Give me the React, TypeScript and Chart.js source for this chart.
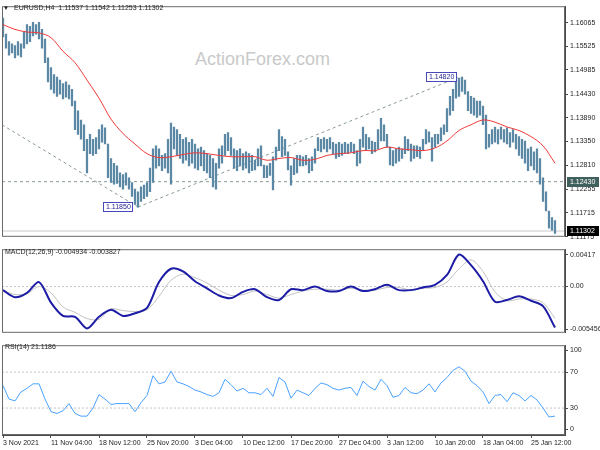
import React, { useEffect, useRef } from 'react';
import Chart from 'chart.js/auto';

const FONT = '"Liberation Sans", Arial, sans-serif';
const SMALL = 7;
const X_MIN = -1 / 3;
const X_MAX = 187 + 1 / 3;
const AXIS_W = 35;

// time axis: one label every 16 H4 bars
const dateLabels = ['3 Nov 2021', '11 Nov 04:00', '18 Nov 12:00', '25 Nov 20:00', '3 Dec 04:00', '10 Dec 12:00', '17 Dec 20:00', '27 Dec 04:00', '3 Jan 12:00', '10 Jan 20:00', '18 Jan 04:00', '25 Jan 12:00'];
const barsPerLabel = 16;

// EURUSD H4 bar highs / lows
const highs = [
  1.1617, 1.1580, 1.1563, 1.1558, 1.1554, 1.1563, 1.1558, 1.1585, 1.1602, 1.1598,
  1.1607, 1.1602, 1.1607, 1.1591, 1.1569, 1.1526, 1.1504, 1.1488, 1.1482, 1.1475,
  1.1467, 1.1471, 1.1464, 1.1454, 1.1427, 1.1405, 1.1384, 1.1373, 1.1340, 1.1351,
  1.1340, 1.1344, 1.1362, 1.1373, 1.1366, 1.1329, 1.1296, 1.1285, 1.1279, 1.1263,
  1.1259, 1.1263, 1.1252, 1.1241, 1.1226, 1.1220, 1.1231, 1.1235, 1.1241, 1.1274,
  1.1318, 1.1325, 1.1318, 1.1303, 1.1307, 1.1340, 1.1377, 1.1368, 1.1362, 1.1351,
  1.1340, 1.1344, 1.1333, 1.1340, 1.1329, 1.1318, 1.1322, 1.1314, 1.1307, 1.1303,
  1.1296, 1.1285, 1.1318, 1.1325, 1.1351, 1.1355, 1.1344, 1.1318, 1.1314, 1.1318,
  1.1307, 1.1311, 1.1307, 1.1303, 1.1292, 1.1318, 1.1325, 1.1281, 1.1279, 1.1285,
  1.1300, 1.1322, 1.1362, 1.1346, 1.1340, 1.1311, 1.1279, 1.1296, 1.1303, 1.1303,
  1.1300, 1.1303, 1.1296, 1.1300, 1.1318, 1.1344, 1.1340, 1.1344, 1.1340, 1.1344,
  1.1333, 1.1329, 1.1333, 1.1329, 1.1333, 1.1329, 1.1333, 1.1329, 1.1314, 1.1340,
  1.1368, 1.1351, 1.1344, 1.1336, 1.1333, 1.1362, 1.1388, 1.1373, 1.1351, 1.1322,
  1.1314, 1.1318, 1.1322, 1.1318, 1.1346, 1.1340, 1.1329, 1.1325, 1.1325, 1.1322,
  1.1340, 1.1362, 1.1357, 1.1344, 1.1351, 1.1351, 1.1366, 1.1373, 1.1410, 1.1438,
  1.1454, 1.1475, 1.1480, 1.1482, 1.1475, 1.1449, 1.1438, 1.1434, 1.1427, 1.1427,
  1.1416, 1.1395, 1.1351, 1.1362, 1.1368, 1.1362, 1.1368, 1.1362, 1.1366, 1.1355,
  1.1362, 1.1351, 1.1346, 1.1340, 1.1336, 1.1318, 1.1322, 1.1311, 1.1318, 1.1296,
  1.1252, 1.1220, 1.1176, 1.1161, 1.1154,
];
const lows = [
  1.1574, 1.1548, 1.1532, 1.1537, 1.1526, 1.1532, 1.1528, 1.1548, 1.1558, 1.1563,
  1.1576, 1.1580, 1.1569, 1.1548, 1.1515, 1.1471, 1.1454, 1.1445, 1.1438, 1.1443,
  1.1432, 1.1436, 1.1432, 1.1416, 1.1362, 1.1351, 1.1340, 1.1314, 1.1263, 1.1307,
  1.1303, 1.1307, 1.1318, 1.1333, 1.1329, 1.1252, 1.1241, 1.1237, 1.1239, 1.1231,
  1.1226, 1.1235, 1.1226, 1.1209, 1.1191, 1.1185, 1.1198, 1.1204, 1.1209, 1.1220,
  1.1241, 1.1274, 1.1279, 1.1268, 1.1274, 1.1263, 1.1237, 1.1318, 1.1303, 1.1296,
  1.1285, 1.1292, 1.1279, 1.1285, 1.1274, 1.1270, 1.1279, 1.1268, 1.1263, 1.1252,
  1.1231, 1.1226, 1.1274, 1.1285, 1.1303, 1.1314, 1.1303, 1.1274, 1.1268, 1.1279,
  1.1270, 1.1274, 1.1263, 1.1268, 1.1270, 1.1279, 1.1279, 1.1252, 1.1252, 1.1257,
  1.1224, 1.1292, 1.1314, 1.1300, 1.1303, 1.1270, 1.1235, 1.1259, 1.1263, 1.1279,
  1.1279, 1.1281, 1.1263, 1.1268, 1.1285, 1.1314, 1.1311, 1.1318, 1.1311, 1.1318,
  1.1307, 1.1296, 1.1300, 1.1303, 1.1307, 1.1307, 1.1311, 1.1307, 1.1279, 1.1285,
  1.1322, 1.1314, 1.1318, 1.1307, 1.1311, 1.1318, 1.1336, 1.1336, 1.1322, 1.1281,
  1.1279, 1.1285, 1.1290, 1.1296, 1.1307, 1.1314, 1.1290, 1.1296, 1.1300, 1.1296,
  1.1314, 1.1329, 1.1333, 1.1290, 1.1322, 1.1329, 1.1336, 1.1351, 1.1357, 1.1395,
  1.1405, 1.1434, 1.1438, 1.1449, 1.1443, 1.1405, 1.1399, 1.1395, 1.1390, 1.1395,
  1.1373, 1.1318, 1.1322, 1.1329, 1.1333, 1.1329, 1.1340, 1.1333, 1.1329, 1.1322,
  1.1333, 1.1318, 1.1303, 1.1296, 1.1285, 1.1268, 1.1279, 1.1270, 1.1263, 1.1237,
  1.1198, 1.1176, 1.1137, 1.1132, 1.1125,
];

// moving average, one value every 4 bars
const maValues = [
  1.1602, 1.1591, 1.1585, 1.1583, 1.1572, 1.1541, 1.1515, 1.1475, 1.1434, 1.1386,
  1.1353, 1.1329, 1.1307, 1.1298, 1.1300, 1.1305, 1.1309, 1.1307, 1.1303, 1.1300,
  1.1300, 1.1300, 1.1292, 1.1296, 1.1298, 1.1292, 1.1294, 1.1303, 1.1307, 1.1309,
  1.1314, 1.1314, 1.1322, 1.1318, 1.1316, 1.1314, 1.1320, 1.1336, 1.1360, 1.1373,
  1.1384, 1.1379, 1.1368, 1.1360, 1.1346, 1.1325, 1.1285,
];

// MACD(12,26,9), one value every 4 bars
const macdMain = [
  -0.00043, -0.00128, -0.00075, 0.00054, -0.00193, -0.00353, -0.00364, -0.00503, -0.00364, -0.00278,
  -0.00353, -0.00321, -0.00257, 0.00054, 0.00214, 0.00182, 0.00064, -0.00021, -0.00107, -0.00139,
  -0.00064, -0.00032, -0.00128, -0.00161, -0.00032, -0.00043, 0, -0.00054, -0.00054, 0,
  -0.00054, -0.00032, 0.00021, -0.00043, -0.00043, -0.00011, 0.00021, 0.00139, 0.00385, 0.00257,
  0.00064, -0.00182, -0.00161, -0.00118, -0.00171, -0.00235, -0.00493,
];
const macdSignal = [
  -0.00043, -0.00096, -0.00086, 0, -0.00075, -0.00246, -0.0031, -0.00385, -0.00396, -0.00268,
  -0.00289, -0.003, -0.00278, -0.00118, 0.00075, 0.0015, 0.00107, 0.00043, -0.00043, -0.00107,
  -0.00096, -0.00054, -0.00096, -0.00139, -0.00096, -0.00054, -0.00032, -0.00032, -0.00043, -0.00021,
  -0.00043, -0.00043, -0.00011, -0.00011, -0.00043, -0.00021, -0.00011, 0.00054, 0.00214, 0.00321,
  0.00182, -0.00064, -0.00171, -0.0015, -0.0015, -0.00193, -0.00383,
];

// RSI(14), one value every 2 bars
const rsiValues = [
  55, 40, 38, 48, 52, 57, 57, 40, 26, 24,
  27, 35, 24, 21, 21, 30, 45, 40, 34, 35,
  35, 35, 26, 36, 44, 66, 57, 59, 71, 59,
  57, 54, 50, 48, 45, 43, 47, 62, 56, 49,
  52, 47, 47, 45, 52, 43, 64, 59, 41, 50,
  47, 44, 52, 58, 56, 52, 50, 52, 53, 44,
  60, 54, 50, 62, 55, 42, 44, 53, 47, 46,
  50, 57, 48, 58, 64, 72, 76, 71, 60, 55,
  48, 35, 44, 45, 37, 47, 44, 38, 44, 39,
  30, 20, 21.1,
];

const priceTicks = [1.16065, 1.15525, 1.14985, 1.1443, 1.1389, 1.1335, 1.1281, 1.12255, 1.11715, 1.11175];
const lastBar = [1.11537, 1.11542, 1.11253, 1.11302];
const macdLast = [-0.004934, -0.003827];
const rsiLast = 21.1186;
const macdAxisLabels = ['-0.005456', '0.00', '0.00417'];
const rsiAxisLabels = ['0', '30', '70', '100'];
const rsiLevels = [70, 30];

// swing points joined by the trend lines
const swingBars = [45, 153];
const swingPrices = [1.1185, 1.1482];
const trendStartPrice = 1.1373;
const markedLevel = 1.1243;
const axisMarkPrices = [1.1243, 1.11302];
const axisMarkColors = ['#40605e', '#000000'];

const PRICE_MIN = 1.1117;
const PRICE_MAX = 1.1644;
const MACD_MIN = -0.00556;
const MACD_MAX = 0.00449;

const every = (values: number[], step: number) => values.map((y, k) => ({ x: k * step, y }));
const flat = (y: number) => [{ x: X_MIN, y }, { x: X_MAX, y }];

const hiddenX = { type: 'linear', min: X_MIN, max: X_MAX, display: false, offset: false };

const rightAxis = (min: number, max: number, values: number[], label: (v: any, i: number) => string) => ({
  position: 'right',
  min,
  max,
  afterBuildTicks: (scale: any) => {
    scale.ticks = values.map((value) => ({ value }));
  },
  afterFit: (scale: any) => {
    scale.width = AXIS_W;
  },
  grid: { drawOnChartArea: false, drawTicks: true, tickLength: 3, color: '#4a4a4a' },
  border: { display: true, color: '#4a4a4a' },
  ticks: { padding: 2, autoSkip: false, color: '#1e1e1e', font: { family: FONT, size: SMALL }, callback: label },
});

const framePlugin = {
  id: 'frame',
  afterDraw(chart: any) {
    const { ctx, chartArea: a } = chart;
    ctx.save();
    ctx.strokeStyle = '#6a6a6a';
    ctx.lineWidth = 1;
    ctx.strokeRect(a.left + 0.5, a.top + 0.5, a.width - 1, a.height - 1);
    ctx.restore();
  },
};

const mainMarksPlugin = {
  id: 'mainMarks',
  afterDatasetsDraw(chart: any) {
    const { ctx, chartArea, scales } = chart;
    ctx.save();
    ctx.font = `${SMALL}px ${FONT}`;
    ctx.textBaseline = 'middle';
    ctx.textAlign = 'left';
    swingBars.forEach((bar, k) => {
      const px = Math.round(scales.x.getPixelForValue(bar));
      const py = Math.round(scales.y.getPixelForValue(swingPrices[k]));
      const text = swingPrices[k].toFixed(5);
      const w = Math.ceil(ctx.measureText(text).width) + 5;
      const left = px - 5 - w;
      ctx.fillStyle = '#ffffff';
      ctx.fillRect(left, py - 5, w, 10);
      ctx.strokeStyle = '#4848b8';
      ctx.lineWidth = 1;
      ctx.strokeRect(left + 0.5, py - 4.5, w - 1, 9);
      ctx.fillStyle = '#1e1e8c';
      ctx.fillText(text, left + 3, py + 0.5);
    });
    axisMarkPrices.forEach((p, k) => {
      const py = Math.round(scales.y.getPixelForValue(p));
      ctx.fillStyle = axisMarkColors[k];
      ctx.fillRect(chartArea.right + 2, py - 5, 32, 10);
      ctx.fillStyle = '#ffffff';
      ctx.fillText(p.toFixed(5), chartArea.right + 5, py + 0.5);
    });
    ctx.restore();
  },
};

const dashed = (data: any[], color: string, dash: number[]) => ({
  type: 'line',
  data,
  borderColor: color,
  borderWidth: 1,
  borderDash: dash,
  pointRadius: 0,
});

const App: React.FC = () => {
  const mainRef = useRef<HTMLCanvasElement | null>(null);
  const macdRef = useRef<HTMLCanvasElement | null>(null);
  const rsiRef = useRef<HTMLCanvasElement | null>(null);

  useEffect(() => {
    const charts: Chart[] = [];
    const base = {
      responsive: false,
      animation: false,
      events: [],
      plugins: { legend: { display: false }, tooltip: { enabled: false } },
    };

    if (mainRef.current) {
      charts.push(
        new Chart(mainRef.current, {
          type: 'bar',
          data: {
            datasets: [
              { type: 'line', data: every(maValues, 4), borderColor: '#f03a3a', borderWidth: 1, pointRadius: 0, tension: 0.35 },
              {
                type: 'bar',
                data: highs.map((h, i) => ({ x: i, y: [lows[i], h] })),
                backgroundColor: '#5b88a4',
                barThickness: 1.6,
                grouped: false,
              },
              dashed([{ x: X_MIN, y: trendStartPrice }, { x: swingBars[0], y: swingPrices[0] }], '#8a9a9a', [3, 3]),
              dashed([{ x: swingBars[0], y: swingPrices[0] }, { x: swingBars[1] - 1, y: swingPrices[1] }], '#8a9a9a', [3, 3]),
              dashed(flat(markedLevel), '#8a9a9a', [3, 3]),
              dashed(flat(lastBar[3]), '#c8c8c8', []),
            ],
          },
          options: {
            ...base,
            layout: { padding: { top: 1, left: 2, right: 0, bottom: 1 } },
            scales: {
              x: hiddenX,
              y: rightAxis(PRICE_MIN, PRICE_MAX, priceTicks, (v) => Number(v).toFixed(5)),
            },
          },
          plugins: [framePlugin, mainMarksPlugin],
        } as any)
      );
    }

    if (macdRef.current) {
      const range = MACD_MAX - MACD_MIN;
      charts.push(
        new Chart(macdRef.current, {
          type: 'line',
          data: {
            datasets: [
              { data: every(macdMain, 4), borderColor: '#1c1ca6', borderWidth: 2, pointRadius: 0, tension: 0.3 },
              { data: every(macdSignal, 4), borderColor: '#c2c2c2', borderWidth: 1, pointRadius: 0, tension: 0.3 },
              dashed(flat(0), '#c4c4c4', [2, 2]),
            ],
          },
          options: {
            ...base,
            layout: { padding: { top: 1, left: 2, right: 0, bottom: 1 } },
            scales: {
              x: hiddenX,
              y: rightAxis(MACD_MIN, MACD_MAX, [MACD_MIN + range * 0.045, 0, MACD_MAX - range * 0.065], (_v, i) => macdAxisLabels[i]),
            },
          },
          plugins: [framePlugin],
        } as any)
      );
    }

    if (rsiRef.current) {
      charts.push(
        new Chart(rsiRef.current, {
          type: 'line',
          data: {
            datasets: [
              { data: every(rsiValues, 2), borderColor: '#4aa2ff', borderWidth: 1, pointRadius: 0, tension: 0 },
              ...rsiLevels.map((lv) => dashed(flat(lv), '#c4c4c4', [2, 2])),
            ],
          },
          options: {
            ...base,
            layout: { padding: { top: 2, left: 2, right: 0, bottom: 0 } },
            scales: {
              x: {
                type: 'linear',
                min: X_MIN,
                max: X_MAX,
                offset: false,
                afterBuildTicks: (scale: any) => {
                  scale.ticks = dateLabels.map((_, k) => ({ value: k * barsPerLabel }));
                },
                afterFit: (scale: any) => {
                  scale.height = 15;
                },
                grid: { drawOnChartArea: false, drawTicks: true, tickLength: 3, color: '#4a4a4a' },
                border: { display: true, color: '#4a4a4a' },
                ticks: {
                  align: 'start',
                  padding: 1,
                  maxRotation: 0,
                  autoSkip: false,
                  color: '#1e1e1e',
                  font: { family: FONT, size: SMALL },
                  callback: (v: any) => dateLabels[Math.round(Number(v) / barsPerLabel)],
                },
              },
              y: rightAxis(0, 100, [6.5, 30, 70, 94.5], (_v, i) => rsiAxisLabels[i]),
            },
          },
          plugins: [framePlugin],
        } as any)
      );
    }

    return () => {
      charts.forEach((c) => c.destroy());
    };
  }, []);

  const text: React.CSSProperties = {
    position: 'absolute',
    fontFamily: FONT,
    fontSize: SMALL,
    lineHeight: '10px',
    color: '#1e1e1e',
    whiteSpace: 'pre',
  };

  return (
    <div style={{ position: 'absolute', left: 0, top: 0, width: 600, height: 450, background: '#ffffff', overflow: 'hidden' }}>
      <div style={{ ...text, left: 195, top: 49, fontSize: 18, lineHeight: '20px', color: '#c9c9c9' }}>ActionForex.com</div>
      <canvas ref={mainRef} width={600} height={243} style={{ position: 'absolute', left: 0, top: 0, display: 'block' }} />
      <canvas ref={macdRef} width={600} height={96} style={{ position: 'absolute', left: 0, top: 243, display: 'block' }} />
      <canvas ref={rsiRef} width={600} height={111} style={{ position: 'absolute', left: 0, top: 339, display: 'block' }} />
      <div style={{ ...text, left: 3, top: 3, fontSize: 6 }}>▼</div>
      <div style={{ ...text, left: 14, top: 3 }}>{`EURUSD,H4  ${lastBar.map((v) => v.toFixed(5)).join(' ')}`}</div>
      <div style={{ ...text, left: 5, top: 247 }}>{`MACD(12,26,9) ${macdLast.map((v) => v.toFixed(6)).join(' ')}`}</div>
      <div style={{ ...text, left: 5, top: 342 }}>{`RSI(14) ${rsiLast.toFixed(4)}`}</div>
    </div>
  );
};

export default App;
